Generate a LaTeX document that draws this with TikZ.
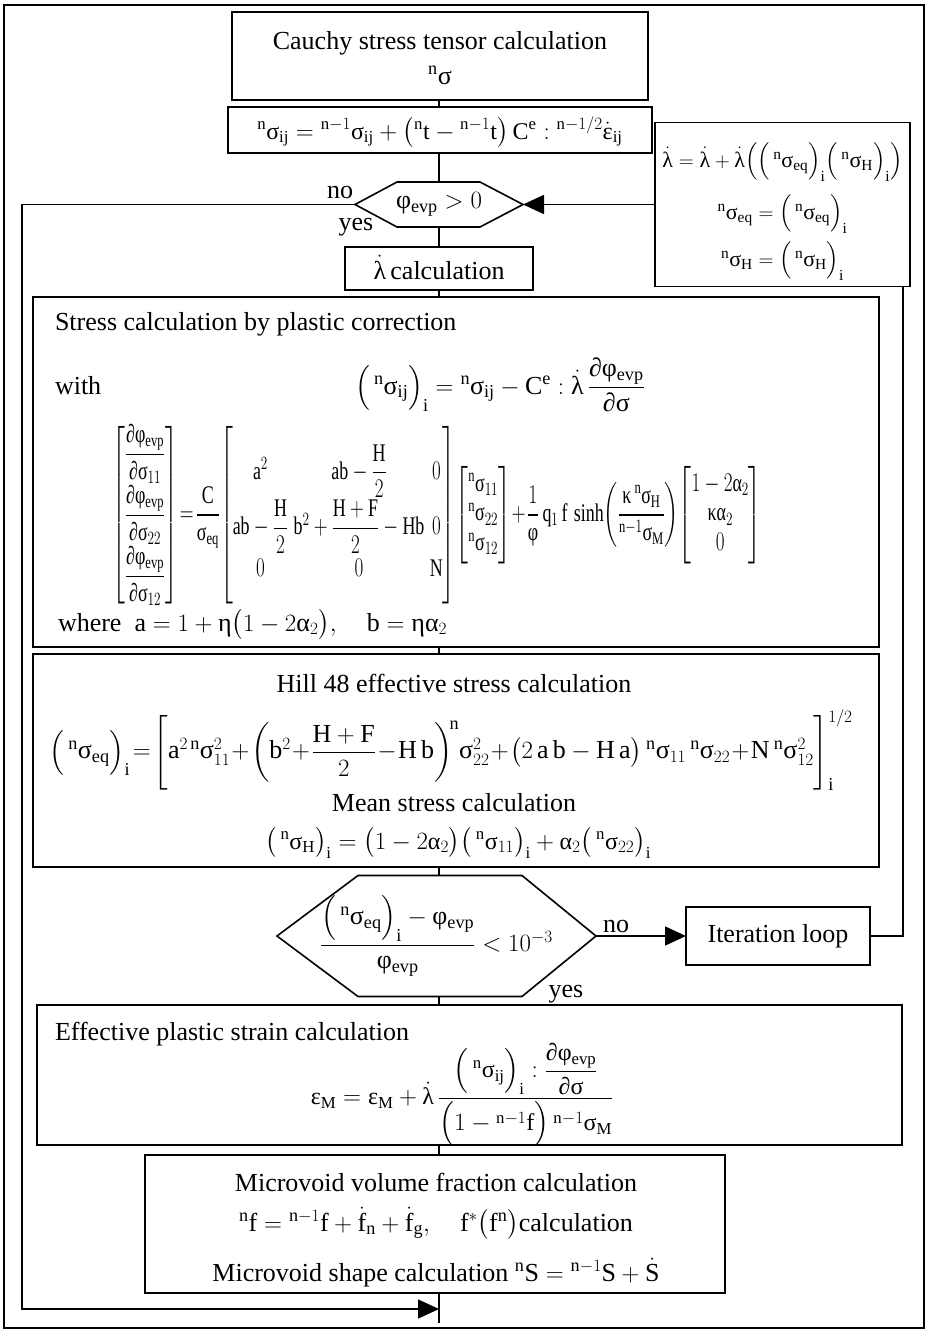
\documentclass[tikz,border=0pt]{standalone}
\usepackage{amsmath}
\usepackage{graphicx}
\usepackage{fontspec}
\setmainfont{Liberation Serif}
\usetikzlibrary{arrows.meta,calc}
\makeatletter
\AtBeginDocument{%
  \count@=`a
  \loop \mathcode\count@=\numexpr"7000+\count@\relax
    \advance\count@ 1 \ifnum\count@<123 \repeat
  \count@=`A
  \loop \mathcode\count@=\numexpr"7000+\count@\relax
    \advance\count@ 1 \ifnum\count@<91 \repeat
  \Umathcode`σ="7 "0 "3C3
  \Umathcode`λ="7 "0 "3BB
  \Umathcode`φ="7 "0 "3C6
  \Umathcode`ε="7 "0 "3B5
  \Umathcode`η="7 "0 "3B7
  \Umathcode`α="7 "0 "3B1
  \Umathcode`κ="7 "0 "3BA
  \Umathcode`∂="7 "0 "2202
}
\makeatother
\newcommand{\nn}[1]{{}^{#1}}
\newcommand{\pr}[1]{\Big(\,#1\Big)}
\newcommand{\prs}[1]{\big(\,#1\big)}
\begin{document}
\begin{tikzpicture}[x=1pt,y=-1pt,line width=1.6pt,
  every node/.style={font=\fontsize{26}{31}\selectfont, inner sep=0pt, outer sep=0pt},
  box/.style={draw, rectangle, line width=1.6pt},
  ghost/.style={rectangle},
  hexline/.style={line width=1.6pt},
  conn/.style={line width=1.6pt},
  arr/.style={line width=1.6pt,-{Triangle[length=21pt,width=19pt]}},
  small/.style={font=\fontsize{22}{26}\selectfont},
  mid/.style={font=\fontsize{24}{28}\selectfont},
  tiny/.style={font=\fontsize{19.5}{23}\selectfont},
]
\useasboundingbox (0,0) rectangle (928,1333);
\draw[line width=1.6pt] (4,5) rectangle (924,1328);
\coordinate (spine) at (439,0);
\coordinate (loopL) at (22,1309);
\coordinate (loopR) at (903,0);
\coordinate (btm) at (439,1309);
\coordinate (mend) at (439,1323);

% Cauchy box
\node[box, minimum width=416pt, minimum height=88pt] (cauchy) at (440,56) {};
\node[anchor=base] (cauchyT) at (440,49) {Cauchy stress tensor calculation};
\node[anchor=base] (cauchyS) at (440,84) {$\nn{n}σ$};

% equation box
\node[box, minimum width=424pt, minimum height=46pt] (eqA) at (440,130) {};
\node[anchor=base, mid] (eqAT) at (440,139) {$\nn{n}σ_{ij} = \nn{n-1}σ_{ij} + \big(\nn{n}t - \nn{n-1}t\big)\,C^{e} : \nn{n-1/2}\dot{ε}_{ij}$};

% hexagon 1
\node[ghost, minimum width=168pt, minimum height=45pt] (hexA) at (439,204.5) {$φ_{evp} > 0$};
\draw[hexline] (hexA.west) -- ($(hexA.north west)+(42,0)$) -- ($(hexA.north east)+(-43,0)$) -- (hexA.east) -- ($(hexA.south east)+(-43,0)$) -- ($(hexA.south west)+(42,0)$) -- cycle;
\node[anchor=base] (noA) at (340,198) {no};
\node[anchor=base] (yesA) at (356,230) {yes};

% lambda box
\node[box, minimum width=188pt, minimum height=43pt] (lam) at (439,268.5) {};
\node[anchor=base] (lamT) at (439,279) {$\dot{λ}$\,calculation};

% update box
\node[box, minimum width=255pt, minimum height=164pt] (upd) at (782.5,204.5) {};
\node[anchor=base, small] (updA) at (782.5,167) {$\dot{λ} = \dot{λ} + \dot{λ}\Big(\pr{\nn{n}σ_{eq}}_{i}\pr{\nn{n}σ_{H}}_{i}\Big)$};
\node[anchor=base, small] (updB) at (782.5,219) {$\nn{n}σ_{eq} = \pr{\nn{n}σ_{eq}}_{i}$};
\node[anchor=base, small] (updC) at (782.5,266) {$\nn{n}σ_{H} = \pr{\nn{n}σ_{H}}_{i}$};

% stress box
\node[box, minimum width=846pt, minimum height=350pt] (stress) at (456,472) {};
\node[anchor=base west] (stT) at (55,330) {Stress calculation by plastic correction};
\node[anchor=base west] (stW) at (55,394) {with};
\node[anchor=base] (stE) at (500,394) {$\pr{\nn{n}σ_{ij}}_{i} = \nn{n}σ_{ij} - C^{e} : \dot{λ}\,\dfrac{∂φ_{evp}}{∂σ}$};
\node[tiny] (stM) at (437,515) {\scalebox{0.92}[1.3]{\setlength{\arraycolsep}{3pt}$\begin{bmatrix} \dfrac{∂φ_{evp}}{∂σ_{11}} \\[12pt] \dfrac{∂φ_{evp}}{∂σ_{22}} \\[12pt] \dfrac{∂φ_{evp}}{∂σ_{12}} \end{bmatrix}
\!=\! \dfrac{C}{σ_{eq}}\!
\left[\vphantom{\begin{matrix} \dfrac{∂φ}{∂σ} \\[12pt] \dfrac{∂φ}{∂σ} \\[12pt] \dfrac{∂φ}{∂σ}\end{matrix}}
\begin{matrix} a^{2} & ab-\dfrac{H}{2} & 0 \\[9pt] ab-\dfrac{H}{2} & b^{2}+\dfrac{H+F}{2}-Hb & 0 \\[9pt] 0 & 0 & N \end{matrix}\right]\!
\begin{bmatrix} \nn{n}σ_{11} \\ \nn{n}σ_{22} \\ \nn{n}σ_{12} \end{bmatrix}
\!+\! \dfrac{1}{φ}\,q_{1}\,f\,\sinh\!\left(\dfrac{κ\,\nn{n}σ_{H}}{\nn{n-1}σ_{M}}\right)\!
\begin{bmatrix} 1-2α_{2} \\ κα_{2} \\ 0 \end{bmatrix}$}};
\node[anchor=base west] (stWh) at (58,631) {where\ \ $a = 1+η\big(1-2α_{2}\big),\quad b = ηα_{2}$};

% Hill box
\node[box, minimum width=846pt, minimum height=213pt] (hill) at (456,760.5) {};
\node[anchor=base] (hiT) at (454,692) {Hill 48 effective stress calculation};
\node (hiE) at (451,750) {$\pr{\nn{n}σ_{eq}}_{i}\! = \!\Bigg[a^{2\,n}σ_{11}^{2}\! +\! \bigg(b^{2}\!+\!\dfrac{H+F}{2}\!-\!H\,b\bigg)^{\!n}σ_{22}^{2}\!+\!\big(2\,a\,b-H\,a\big)\,\nn{n}σ_{11}\,\nn{n}σ_{22}\!+\!N\,\nn{n}σ_{12}^{2}\Bigg]_{i}^{1/2}$};
\node[anchor=base] (hiM) at (454,811) {Mean stress calculation};
\node[anchor=base, mid] (hiME) at (458,849) {$\prs{\nn{n}σ_{H}}_{i} = \big(1-2α_{2}\big)\prs{\nn{n}σ_{11}}_{i} + α_{2}\prs{\nn{n}σ_{22}}_{i}$};

% hexagon 2
\node[ghost, minimum width=319pt, minimum height=121pt] (hexB) at (436.5,936) {$\dfrac{\pr{\nn{n}σ_{eq}}_{i} - φ_{evp}}{φ_{evp}} < 10^{-3}$};
\draw[hexline] (hexB.west) -- ($(hexB.north west)+(81,0)$) -- ($(hexB.north east)+(-74,0)$) -- (hexB.east) -- ($(hexB.south east)+(-74,0)$) -- ($(hexB.south west)+(81,0)$) -- cycle;
\node[anchor=base] (noB) at (616,932) {no};
\node[anchor=base] (yesB) at (566,997) {yes};

% iteration box
\node[box, minimum width=184pt, minimum height=58pt] (iter) at (778,936) {Iteration loop};

% effective strain box
\node[box, minimum width=865pt, minimum height=140pt] (eff) at (469.5,1075) {};
\node[anchor=base west] (efT) at (55,1040) {Effective plastic strain calculation};
\node[mid] (efE) at (462,1095) {$ε_{M} = ε_{M} + \dot{λ}\,\dfrac{\pr{\nn{n}σ_{ij}}_{i} : \dfrac{∂φ_{evp}}{∂σ}}{\Big(1-\nn{n-1}f\Big)\,\nn{n-1}σ_{M}}$};

% microvoid box
\node[box, minimum width=580pt, minimum height=138pt] (micro) at (435,1224) {};
\node[anchor=base] (miA) at (436,1191) {Microvoid volume fraction calculation};
\node[anchor=base] (miB) at (436,1231) {$\nn{n}f = \nn{n-1}f + \dot{f}_{n} + \dot{f}_{g},\quad f^{*}\big(f^{n}\big)$calculation};
\node[anchor=base] (miC) at (436,1281) {Microvoid shape calculation $\nn{n}S = \nn{n-1}S + \dot{S}$};

% connectors
\draw[conn] (cauchy.south -| spine) -- (eqA.north -| spine);
\draw[conn] (eqA.south -| spine) -- (hexA.north -| spine);
\draw[conn] (hexA.south -| spine) -- (lam.north -| spine);
\draw[conn] (lam.south -| spine) -- (stress.north -| spine);
\draw[conn] (stress.south -| spine) -- (hill.north -| spine);
\draw[conn] (hill.south -| spine) -- (hexB.north -| spine);
\draw[conn] (hexB.south -| spine) -- (eff.north -| spine);
\draw[conn] (eff.south -| spine) -- (micro.north -| spine);
\draw[conn] (micro.south -| spine) -- (mend);
\draw[arr] (hexA.west) -| (loopL) -- (btm);
\draw[arr] (hexB.east) -- (iter.west);
\draw[conn] (iter.east) -| (upd.south -| loopR);
\draw[arr] (upd.west) -- (hexA.east);
\end{tikzpicture}
\end{document}
